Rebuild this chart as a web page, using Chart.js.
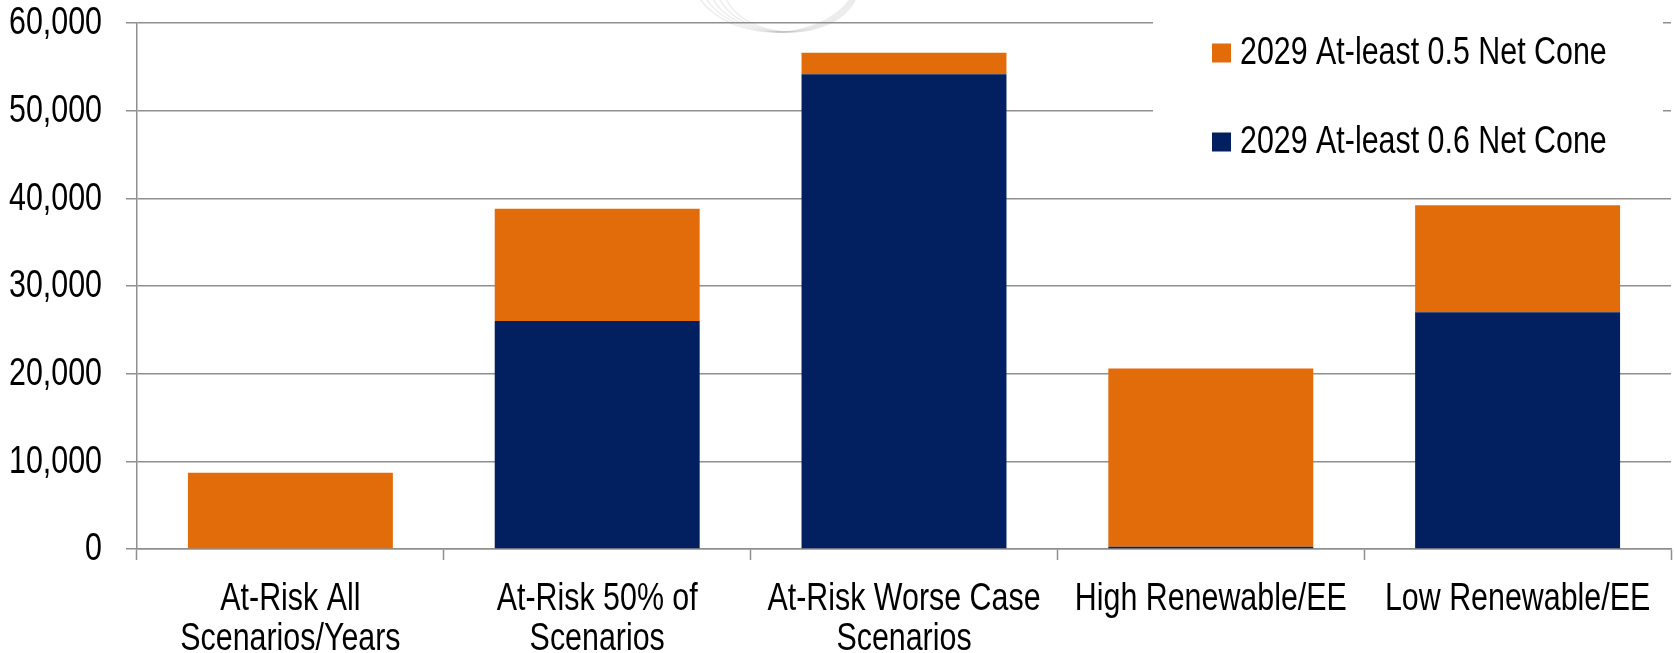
<!DOCTYPE html>
<html>
<head>
<meta charset="utf-8">
<script src="https://cdn.jsdelivr.net/npm/chart.js@4.4.1/dist/chart.umd.min.js"></script>
<style>
  html, body { margin: 0; padding: 0; background: #ffffff; overflow: hidden; }
  #wrap { position: relative; width: 1674px; height: 653px; }
</style>
</head>
<body>
<div id="wrap"><canvas id="chart"></canvas></div>
<script>
// Categories along the x axis (multi-line labels are arrays of lines)
const categories = [
  ["At-Risk All", "Scenarios/Years"],
  ["At-Risk 50% of", "Scenarios"],
  ["At-Risk Worse Case", "Scenarios"],
  "High Renewable/EE",
  "Low Renewable/EE"
];

// Series names
const seriesNetCone06 = "2029 At-least 0.6 Net Cone";
const seriesNetCone05 = "2029 At-least 0.5 Net Cone";

// Stacked values (navy segment at the bottom, orange segment on top)
const netCone06 = [0, 26000, 54150, 250, 27000];
const netCone05 = [8700, 12800, 2460, 20350, 12200];

// Value axis ticks
const yTicks = [0, 10000, 20000, 30000, 40000, 50000, 60000];

const ORANGE = "#E36C0A";
const NAVY = "#02205F";
const GRID = "#8f8f8f";
const FONT_FAMILY = "'Liberation Sans', Arial, sans-serif";
const FONT_SIZE = 38;
const NARROW = 0.80;          // horizontal squeeze that gives a narrow face
const TICK_LEN = 11;

const fmt = v => Number(v).toLocaleString("en-US");

// Draw a string condensed horizontally, anchored at (x, y)
function narrowText(ctx, text, x, y, align) {
  ctx.save();
  ctx.translate(x, y);
  ctx.scale(NARROW, 1);
  ctx.textAlign = align;
  ctx.fillText(text, 0, 0);
  ctx.restore();
}

// Faint logo arcs at the top of the plot
const watermark = {
  id: "watermark",
  beforeDraw(chart) {
    const ctx = chart.ctx;
    ctx.save();
    ctx.strokeStyle = "rgba(0,0,0,0.07)";
    ctx.lineWidth = 1.5;
    const cx = 775;
    for (let i = 0; i < 5; i++) {
      ctx.beginPath();
      ctx.ellipse(cx + i * 4, -30 + i * 3, 85 - i * 4, 62 - i * 3, 0, 0.12 * Math.PI, 0.88 * Math.PI);
      ctx.stroke();
    }
    ctx.restore();
  }
};

// Axis labels, drawn condensed at the positions the scales give
const axisLabels = {
  id: "axisLabels",
  afterDraw(chart) {
    const ctx = chart.ctx;
    const xs = chart.scales.x, ys = chart.scales.y;
    const area = chart.chartArea;
    ctx.save();
    ctx.fillStyle = "#000000";
    ctx.font = FONT_SIZE + "px " + FONT_FAMILY;
    ctx.textBaseline = "middle";
    ys.ticks.forEach(t => {
      narrowText(ctx, fmt(t.value), area.left - TICK_LEN - 24, ys.getPixelForValue(t.value) + 1, "right");
    });
    const lineH = 39.5;
    chart.data.labels.forEach((lab, i) => {
      const lines = Array.isArray(lab) ? lab : [lab];
      const x = xs.getPixelForValue(i);
      lines.forEach((ln, k) => {
        narrowText(ctx, ln, x, area.bottom + 51 + k * lineH, "center");
      });
    });
    ctx.restore();
  }
};

// Legend drawn inside the plot area, on a white panel, with the top segment listed first
const innerLegend = {
  id: "innerLegend",
  afterDraw(chart) {
    const ctx = chart.ctx;
    const area = chart.chartArea;
    const panelLeft = area.right - 518;
    const panelRight = area.right - 8;
    ctx.save();
    ctx.fillStyle = "#ffffff";
    ctx.fillRect(panelLeft, 0, panelRight - panelLeft, 172);
    const items = chart.data.datasets.slice().reverse();
    ctx.font = FONT_SIZE + "px " + FONT_FAMILY;
    ctx.textBaseline = "middle";
    items.forEach((ds, i) => {
      const cy = 53 + i * 89;
      ctx.fillStyle = ds.backgroundColor;
      ctx.fillRect(panelLeft + 59, cy - 9.5, 19, 19);
      ctx.fillStyle = "#000000";
      narrowText(ctx, ds.label, panelLeft + 87, cy + 1, "left");
    });
    ctx.restore();
  }
};

new Chart(document.getElementById("chart"), {
  type: "bar",
  data: {
    labels: categories,
    datasets: [
      { label: seriesNetCone06, data: netCone06, backgroundColor: NAVY, borderWidth: 0 },
      { label: seriesNetCone05, data: netCone05, backgroundColor: ORANGE, borderWidth: 0 }
    ]
  },
  options: {
    responsive: true,
    maintainAspectRatio: false,
    animation: false,
    devicePixelRatio: 1,
    layout: { padding: { top: 23, right: 3, left: 0, bottom: 0 } },
    datasets: { bar: { categoryPercentage: 0.668, barPercentage: 1.0 } },
    plugins: { legend: { display: false }, tooltip: { enabled: false } },
    scales: {
      x: {
        stacked: true,
        afterFit(scale) { scale.height = 104; },
        grid: {
          offset: true,
          drawOnChartArea: false,
          drawTicks: true,
          tickLength: TICK_LEN,
          tickColor: GRID,
          tickWidth: 1.5
        },
        border: { display: true, color: GRID, width: 1.5 },
        ticks: { display: false }
      },
      y: {
        stacked: true,
        min: yTicks[0],
        max: yTicks[yTicks.length - 1],
        afterFit(scale) { scale.width = 137; },
        afterBuildTicks(scale) { scale.ticks = yTicks.map(v => ({ value: v })); },
        grid: {
          color: GRID,
          lineWidth: 1.5,
          drawTicks: true,
          tickLength: TICK_LEN,
          tickColor: GRID
        },
        border: { display: true, color: GRID, width: 1.5 },
        ticks: { display: false }
      }
    }
  },
  plugins: [watermark, axisLabels, innerLegend]
});
</script>
</body>
</html>
